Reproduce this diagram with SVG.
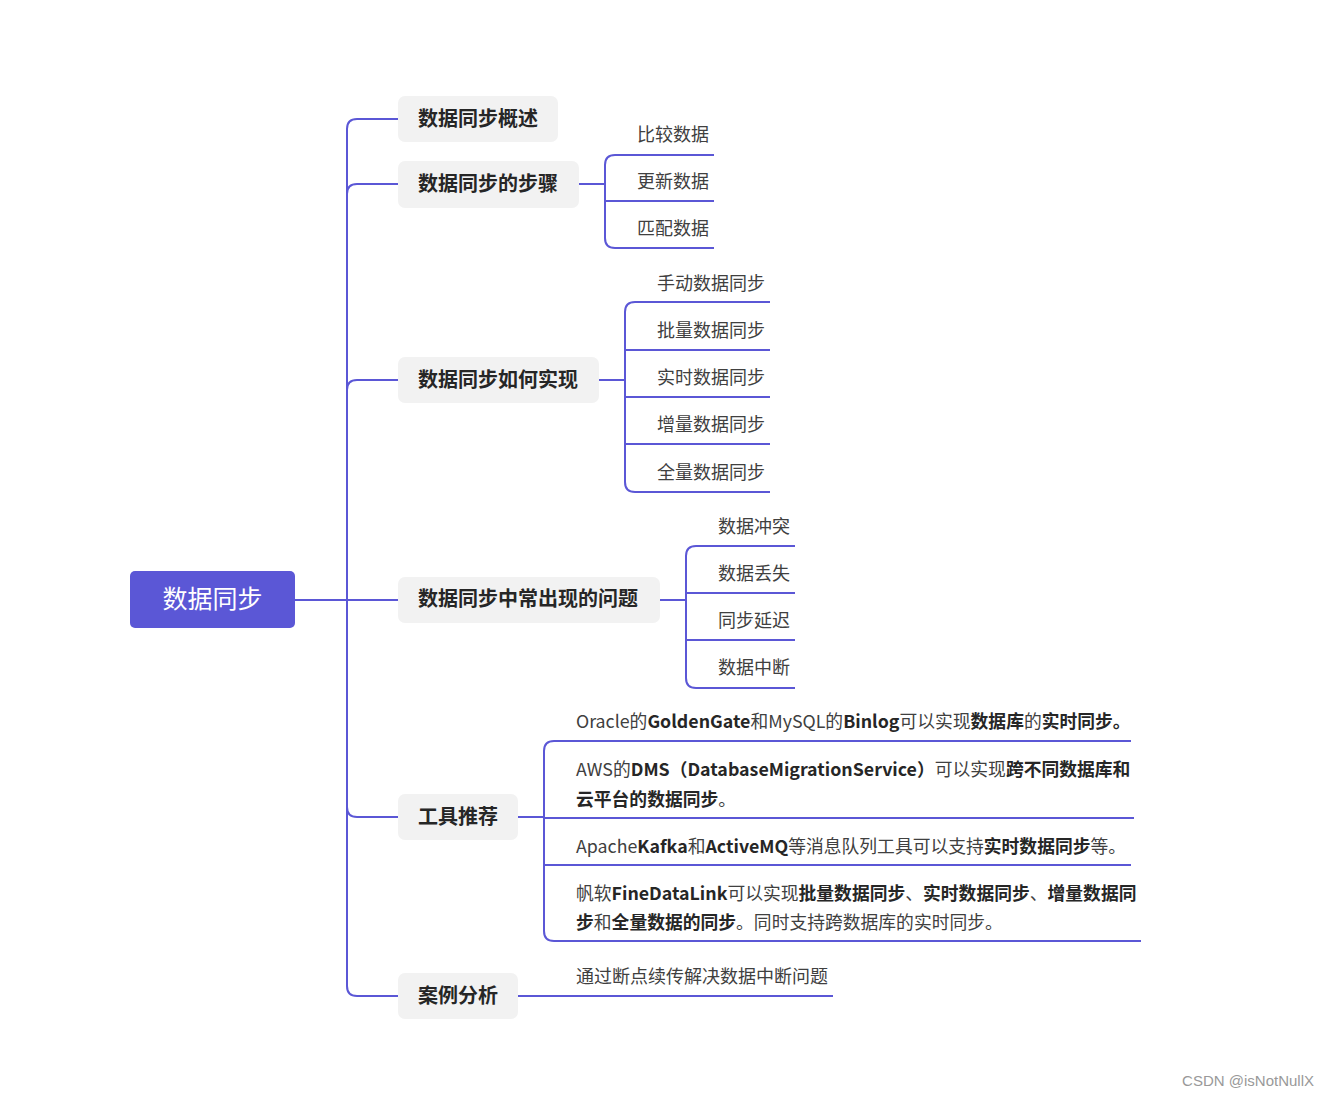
<svg xmlns="http://www.w3.org/2000/svg" width="1329" height="1096" viewBox="0 0 1329 1096">
<style>
.ln{fill:none;stroke:#5b57d6;stroke-width:2;}
.l1{fill:#f2f2f2;}
.t1{font-family:"Noto Sans CJK SC","Noto Sans",sans-serif;font-size:20px;font-weight:bold;fill:#262626;}
.t2{font-family:"Noto Sans CJK SC","Noto Sans",sans-serif;font-size:18px;fill:#404040;}
.t3{font-family:"Noto Sans CJK SC","Noto Sans",sans-serif;font-size:17.8px;fill:#404040;}
.b{font-weight:bold;fill:#262626;}
</style>
<rect width="1329" height="1096" fill="#ffffff"/>
<g id="connectors">
<path class="ln" d="M295,600 H398"/>
<path class="ln" d="M398,119 H357 Q347,119 347,129 V986 Q347,996 357,996 H398"/>
<path class="ln" d="M347,194 Q347,184 357,184 H398"/>
<path class="ln" d="M347,390 Q347,380 357,380 H398"/>
<path class="ln" d="M347,807 Q347,817 357,817 H398"/>
<path class="ln" d="M579,184 H605"/>
<path class="ln" d="M714,155 H615 Q605,155 605,165 V238 Q605,248 615,248 H714"/>
<path class="ln" d="M605,201 H714"/>
<path class="ln" d="M599,380 H625"/>
<path class="ln" d="M770,302 H635 Q625,302 625,312 V482 Q625,492 635,492 H770"/>
<path class="ln" d="M625,350 H770 M625,397 H770 M625,444 H770"/>
<path class="ln" d="M660,600 H686"/>
<path class="ln" d="M795,546 H696 Q686,546 686,556 V678 Q686,688 696,688 H795"/>
<path class="ln" d="M686,593 H795 M686,640 H795"/>
<path class="ln" d="M518,817 H544"/>
<path class="ln" d="M1131,741 H554 Q544,741 544,751 V931 Q544,941 554,941 H1141"/>
<path class="ln" d="M544,818 H1134 M544,865 H1131"/>
<path class="ln" d="M518,996 H833"/>
</g>
<g id="root">
<rect x="130" y="571" width="165" height="57" rx="5" fill="#5b57d6"/>
<text x="212.5" y="608" text-anchor="middle" font-family="'Noto Sans CJK SC','Noto Sans',sans-serif" font-size="25" fill="#ffffff">数据同步</text>
</g>
<g id="n-overview">
<rect class="l1" x="398" y="96" width="160" height="46" rx="7"/>
<text class="t1" x="418" y="126">数据同步概述</text>
</g>
<g id="n-steps">
<rect class="l1" x="398" y="161" width="181" height="47" rx="7"/>
<text class="t1" x="418" y="191">数据同步的步骤</text>
</g>
<g id="n-steps-1"><text class="t2" x="637" y="141">比较数据</text></g>
<g id="n-steps-2"><text class="t2" x="637" y="188">更新数据</text></g>
<g id="n-steps-3"><text class="t2" x="637" y="235">匹配数据</text></g>
<g id="n-how">
<rect class="l1" x="398" y="357" width="201" height="46" rx="7"/>
<text class="t1" x="418" y="387">数据同步如何实现</text>
</g>
<g id="n-how-1"><text class="t2" x="657" y="290">手动数据同步</text></g>
<g id="n-how-2"><text class="t2" x="657" y="337">批量数据同步</text></g>
<g id="n-how-3"><text class="t2" x="657" y="384">实时数据同步</text></g>
<g id="n-how-4"><text class="t2" x="657" y="431">增量数据同步</text></g>
<g id="n-how-5"><text class="t2" x="657" y="479">全量数据同步</text></g>
<g id="n-problems">
<rect class="l1" x="398" y="577" width="262" height="46" rx="7"/>
<text class="t1" x="418" y="606">数据同步中常出现的问题</text>
</g>
<g id="n-prob-1"><text class="t2" x="718" y="533">数据冲突</text></g>
<g id="n-prob-2"><text class="t2" x="718" y="580">数据丢失</text></g>
<g id="n-prob-3"><text class="t2" x="718" y="627">同步延迟</text></g>
<g id="n-prob-4"><text class="t2" x="718" y="674">数据中断</text></g>
<g id="n-tools">
<rect class="l1" x="398" y="794" width="120" height="46" rx="7"/>
<text class="t1" x="418" y="824">工具推荐</text>
</g>
<g id="n-tool-1"><text class="t3" x="576" y="728">Oracle的<tspan class="b">GoldenGate</tspan>和MySQL的<tspan class="b">Binlog</tspan>可以实现<tspan class="b">数据库</tspan>的<tspan class="b">实时同步。</tspan></text></g>
<g id="n-tool-2"><text class="t3" x="576" y="776">AWS的<tspan class="b">DMS（DatabaseMigrationService）</tspan>可以实现<tspan class="b">跨不同数据库和</tspan></text>
<text class="t3" x="576" y="806"><tspan class="b">云平台的数据同步</tspan>。</text></g>
<g id="n-tool-3"><text class="t3" x="576" y="853">Apache<tspan class="b">Kafka</tspan>和<tspan class="b">ActiveMQ</tspan>等消息队列工具可以支持<tspan class="b">实时数据同步</tspan>等。</text></g>
<g id="n-tool-4"><text class="t3" x="576" y="900">帆软<tspan class="b">FineDataLink</tspan>可以实现<tspan class="b">批量数据同步</tspan>、<tspan class="b">实时数据同步</tspan>、<tspan class="b">增量数据同</tspan></text>
<text class="t3" x="576" y="929"><tspan class="b">步</tspan>和<tspan class="b">全量数据的同步</tspan>。同时支持跨数据库的实时同步。</text></g>
<g id="n-case">
<rect class="l1" x="398" y="973" width="120" height="46" rx="7"/>
<text class="t1" x="418" y="1003">案例分析</text>
</g>
<g id="n-case-1"><text class="t2" x="576" y="983">通过断点续传解决数据中断问题</text></g>
<text x="1314" y="1086" text-anchor="end" font-family="'Liberation Sans',Arial,sans-serif" font-size="15" fill="#999999">CSDN @isNotNullX</text>
</svg>
